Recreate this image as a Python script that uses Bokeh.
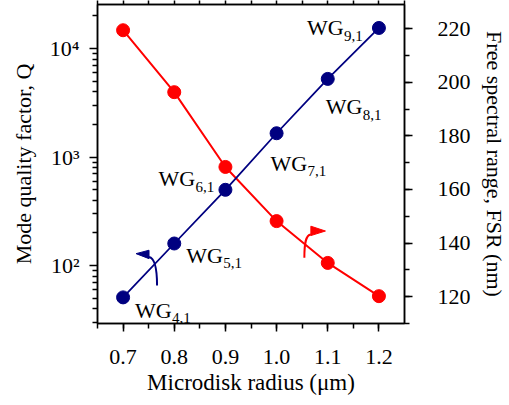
from bokeh.plotting import figure
from bokeh.models import (Range1d, LinearAxis, LinearScale, SingleIntervalTicker, FixedTicker,
                          CustomJSTickFormatter, NumeralTickFormatter, ColumnDataSource)
from bokeh.core.properties import value
from bokeh.embed import file_html
from bokeh.resources import INLINE

# ---- data ----
radius = [0.7, 0.8, 0.9, 1.0, 1.1, 1.2]                 # microdisk radius (um)
q_factor = [51, 160, 500, 1660, 5260, 15500]            # mode quality factor (left, log)
fsr_nm = [219.4, 196.3, 168.4, 148.2, 132.6, 120.2]     # free spectral range (right, nm)
mode_main = ["WG"] * 6
mode_sub = ["4,1", "5,1", "6,1", "7,1", "8,1", "9,1"]

x_ticks_major = 0.1
q_major_ticks = [100, 1000, 10000]
q_minor_ticks = [m * 10 ** k for k in (1, 2, 3, 4) for m in range(2, 10)]

# ---- styles / placement ----
RED = "#ff0000"
BLUE = "#000080"
FONT = "Times"
GFONT = "'Liberation Serif', 'Times New Roman', serif"
label_dx = [12, 12, -67, -6, -2, -72]
label_dy = [13, 12, -11, 30, 28, 0]
SUB_DX, SUB_DY = 37, 8

p = figure(width=509, height=405,
           x_range=Range1d(0.65, 1.25), y_range=Range1d(29.3, 25500),
           y_axis_type="log", output_backend="svg", toolbar_location=None,
           min_border_left=97, min_border_right=96, min_border_top=0, min_border_bottom=82,
           background_fill_color="white", border_fill_color="white")
p.extra_y_ranges = {"fsr": Range1d(110, 229)}
p.extra_y_scales = {"fsr": LinearScale()}
p.xgrid.visible = False
p.ygrid.visible = False
p.outline_line_color = "black"
p.outline_line_width = 1.5
p.outline_line_alpha = 1.0

xaxis = p.xaxis[0]
yaxis = p.yaxis[0]
xaxis.ticker = SingleIntervalTicker(interval=x_ticks_major, num_minor_ticks=2)
xaxis.formatter = NumeralTickFormatter(format="0.0")
xaxis.axis_label = "Microdisk radius (μm)"
yaxis.ticker = FixedTicker(ticks=q_major_ticks, minor_ticks=q_minor_ticks)
yaxis.formatter = CustomJSTickFormatter(code="""
const sup = {'0':'\u2070','1':'\u00b9','2':'\u00b2','3':'\u00b3','4':'\u2074','5':'\u2075','6':'\u2076','7':'\u2077','8':'\u2078','9':'\u2079','-':'\u207b'};
const e = Math.round(Math.log10(tick));
return '10' + String(e).split('').map(c => sup[c]).join('');
""")
yaxis.axis_label = "Mode quality factor, Q"

right = LinearAxis(y_range_name="fsr",
                   ticker=SingleIntervalTicker(interval=20, num_minor_ticks=2),
                   axis_label="Free spectral range, FSR (nm)")
p.add_layout(right, "right")

top = LinearAxis(ticker=SingleIntervalTicker(interval=0.05, num_minor_ticks=0),
                 formatter=CustomJSTickFormatter(code="return '';"),
                 major_label_text_font_size="1px", major_label_standoff=0,
                 major_tick_out=4, major_tick_in=0, minor_tick_out=0, minor_tick_in=0,
                 axis_line_width=1.5, major_tick_line_width=1.5, axis_line_color="black")
p.add_layout(top, "above")

for ax in (xaxis, yaxis, right):
    ax.axis_label_text_font = FONT
    ax.axis_label_text_font_size = "22px"
    ax.axis_label_text_font_style = "normal"
    ax.axis_label_text_color = "black"
    ax.major_label_text_font = FONT
    ax.major_label_text_font_size = "22px"
    ax.major_label_text_color = "black"
    ax.axis_line_width = 1.5
    ax.axis_line_color = "black"
    ax.major_tick_line_width = 1.5
    ax.minor_tick_line_width = 1.5
    ax.major_tick_line_color = "black"
    ax.minor_tick_line_color = "black"
    ax.major_tick_out = 8
    ax.major_tick_in = 0
    ax.minor_tick_out = 5
    ax.minor_tick_in = 0
xaxis.axis_label_text_font_size = "23px"

xaxis.major_label_standoff = 18
xaxis.axis_label_standoff = 3
yaxis.major_label_standoff = 10
yaxis.axis_label_standoff = 11
right.major_label_standoff = 25
right.axis_label_standoff = 8

# ---- series ----
p.line(radius, fsr_nm, y_range_name="fsr", line_color=RED, line_width=2)
p.scatter(radius, fsr_nm, y_range_name="fsr", size=13, fill_color=RED, line_color=RED)
p.line(radius, q_factor, line_color=BLUE, line_width=1.8)
p.scatter(radius, q_factor, size=13, fill_color=BLUE, line_color=BLUE)

# ---- mode labels ----
src = ColumnDataSource(dict(x=radius, y=q_factor, main=mode_main, sub=mode_sub,
                            dx=label_dx, dy=label_dy,
                            sdx=[d + SUB_DX for d in label_dx],
                            sdy=[d + SUB_DY for d in label_dy]))
p.text(x="x", y="y", text="main", x_offset="dx", y_offset="dy", source=src,
       text_font=value(GFONT), text_font_size="22px", text_color="black",
       text_align="left", text_baseline="alphabetic")
p.text(x="x", y="y", text="sub", x_offset="sdx", y_offset="sdy", source=src,
       text_font=value(GFONT), text_font_size="15px", text_color="black",
       text_align="left", text_baseline="alphabetic")

# ---- axis-indicating arrows ----
p.bezier(x0=[0.7664], y0=[65.6], x1=[0.7507], y1=[120],
         cx0=[0.7664], cy0=[94], cx1=[0.762], cy1=[117],
         line_color=BLUE, line_width=2)
p.patch([0.7507, 0.7507, 0.7254], [138.7, 116, 129], fill_color=BLUE, line_color=BLUE)

p.bezier(x0=[1.0543], y0=[134.5], x1=[1.067], y1=[143.2],
         cx0=[1.0543], cy0=[140.0], cx1=[1.057], cy1=[143.0],
         line_color=RED, line_width=2, y_range_name="fsr")
p.patch([1.067, 1.067, 1.0955], [146.3, 142.8, 144.5], fill_color=RED, line_color=RED,
        y_range_name="fsr")

open("out.html", "w").write(file_html(p, INLINE))
